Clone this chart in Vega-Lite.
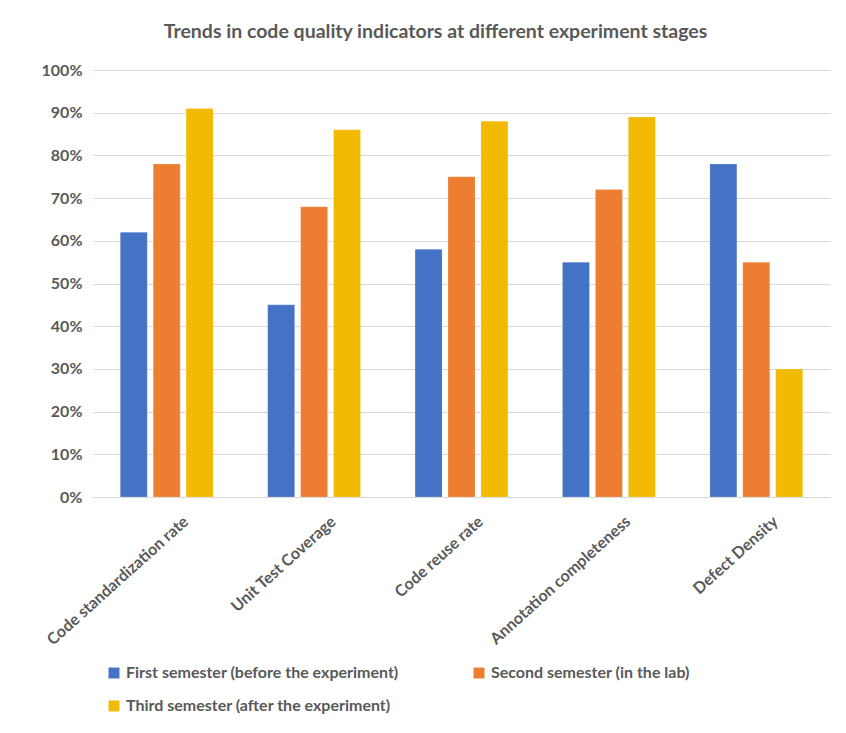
{
  "$schema": "https://vega.github.io/schema/vega-lite/v6.json",
  "autosize": {"type": "none"},
  "width": 737,
  "height": 427,
  "padding": {"left": 93, "top": 70, "right": 16, "bottom": 236},
  "background": "white",
  "title": {
    "text": "Trends in code quality indicators at different experiment stages",
    "font": "Lato",
    "fontSize": 19.5,
    "fontWeight": "bold",
    "color": "#595959",
    "anchor": "middle",
    "frame": "group",
    "dx": -26,
    "offset": 20
  },
  "data": {
    "values": [
      {"metric": "Code standardization rate", "semester": "First semester (before the experiment)", "value": 0.62},
      {"metric": "Code standardization rate", "semester": "Second semester (in the lab)", "value": 0.78},
      {"metric": "Code standardization rate", "semester": "Third semester (after the experiment)", "value": 0.91},
      {"metric": "Unit Test Coverage", "semester": "First semester (before the experiment)", "value": 0.45},
      {"metric": "Unit Test Coverage", "semester": "Second semester (in the lab)", "value": 0.68},
      {"metric": "Unit Test Coverage", "semester": "Third semester (after the experiment)", "value": 0.86},
      {"metric": "Code reuse rate", "semester": "First semester (before the experiment)", "value": 0.58},
      {"metric": "Code reuse rate", "semester": "Second semester (in the lab)", "value": 0.75},
      {"metric": "Code reuse rate", "semester": "Third semester (after the experiment)", "value": 0.88},
      {"metric": "Annotation completeness", "semester": "First semester (before the experiment)", "value": 0.55},
      {"metric": "Annotation completeness", "semester": "Second semester (in the lab)", "value": 0.72},
      {"metric": "Annotation completeness", "semester": "Third semester (after the experiment)", "value": 0.89},
      {"metric": "Defect Density", "semester": "First semester (before the experiment)", "value": 0.78},
      {"metric": "Defect Density", "semester": "Second semester (in the lab)", "value": 0.55},
      {"metric": "Defect Density", "semester": "Third semester (after the experiment)", "value": 0.30}
    ]
  },
  "mark": {"type": "bar", "stroke": "white", "strokeOpacity": 0.4, "strokeWidth": 0.5},
  "encoding": {
    "x": {
      "field": "metric",
      "type": "nominal",
      "sort": null,
      "title": null,
      "scale": {"paddingInner": 0.37, "paddingOuter": 0.185},
      "axis": {
        "labelAngle": -42,
        "labelFont": "Lato",
        "labelFontSize": 16,
        "labelFontWeight": "bold",
        "labelColor": "#595959",
        "labelPadding": 16,
        "labelOffset": 14,
        "ticks": false,
        "domainColor": "#d9d9d9",
        "domainWidth": 1,
        "labelLimit": 300
      }
    },
    "xOffset": {
      "field": "semester",
      "type": "nominal",
      "sort": ["First semester (before the experiment)", "Second semester (in the lab)", "Third semester (after the experiment)"],
      "scale": {"paddingInner": 0.18, "paddingOuter": 0}
    },
    "y": {
      "field": "value",
      "type": "quantitative",
      "title": null,
      "scale": {"domain": [0, 1]},
      "axis": {
        "format": ".0%",
        "values": [0, 0.1, 0.2, 0.3, 0.4, 0.5, 0.6, 0.7, 0.8, 0.9, 1],
        "labelFont": "Lato",
        "labelFontSize": 16,
        "labelFontWeight": "bold",
        "labelColor": "#595959",
        "labelPadding": 11,
        "ticks": false,
        "domain": false,
        "gridColor": "#d9d9d9",
        "gridWidth": 1
      }
    },
    "color": {
      "field": "semester",
      "type": "nominal",
      "sort": ["First semester (before the experiment)", "Second semester (in the lab)", "Third semester (after the experiment)"],
      "scale": {
        "domain": ["First semester (before the experiment)", "Second semester (in the lab)", "Third semester (after the experiment)"],
        "range": ["#4472C4", "#ED7D31", "#F2BA02"]
      },
      "legend": {
        "title": null,
        "orient": "none",
        "legendX": 13,
        "legendY": 595,
        "direction": "horizontal",
        "columns": 2,
        "symbolType": "square",
        "symbolSize": 120,
        "symbolStrokeWidth": 0,
        "labelFont": "Lato",
        "labelFontSize": 16,
        "labelFontWeight": "bold",
        "labelColor": "#595959",
        "labelLimit": 400,
        "columnPadding": 72,
        "rowPadding": 17
      }
    }
  },
  "config": {"view": {"stroke": null}}
}
